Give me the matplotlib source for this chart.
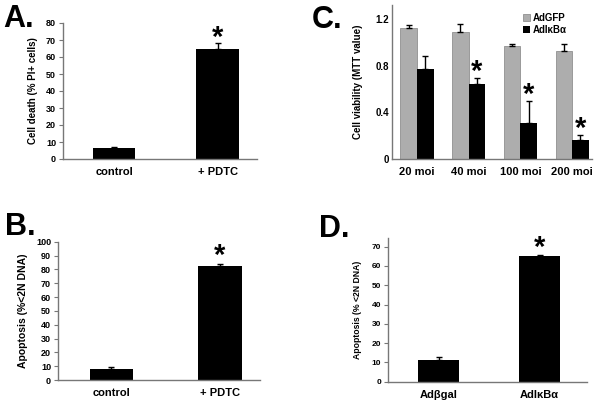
import numpy as np
import matplotlib.pyplot as plt

plt.rcParams['font.family'] = ['Liberation Sans', 'DejaVu Sans']
plt.rcParams['font.weight'] = 'bold'
plt.rcParams['axes.labelweight'] = 'bold'

W, H = 604, 405

# A. cell death
a_cats = ['control', '+ PDTC']
a_vals = [6.5, 64.5]
a_err = [0.6, 4.0]

# B. apoptosis
b_cats = ['control', '+ PDTC']
b_vals = [8.0, 82.5]
b_err = [1.5, 1.5]

# C. MTT viability
c_cats = ['20 moi', '40 moi', '100 moi', '200 moi']
c_gfp = [1.12, 1.086, 0.969, 0.926]
c_gfp_err = [0.03, 0.07, 0.014, 0.057]
c_ikb = [0.775, 0.639, 0.308, 0.162]
c_ikb_err = [0.11, 0.054, 0.19, 0.04]

# D. apoptosis
d_cats = ['Ad\u03b2gal', 'AdI\u03baB\u03b1']
d_vals = [11.0, 65.0]
d_err = [2.0, 0.8]

fig = plt.figure(figsize=(W / 100, H / 100), dpi=100)


def make_ax(l, r, t, b):
    return fig.add_axes([l / W, 1 - b / H, (r - l) / W, (b - t) / H])


def style(ax, ysize, ticks=True):
    for s in ['top', 'right']:
        ax.spines[s].set_visible(False)
    for s in ['left', 'bottom']:
        ax.spines[s].set_color('#777777')
        ax.spines[s].set_linewidth(1.0)
    ax.tick_params(axis='x', length=0, pad=6)
    ax.tick_params(axis='y', length=3 if ticks else 0, width=0.8, color='#777777', pad=2,
                   labelsize=ysize)
    for lab in ax.get_xticklabels() + ax.get_yticklabels():
        lab.set_fontweight('bold')


def star(ax, x, y, size=21):
    ax.text(x, y, '*', ha='center', va='center', fontsize=size, fontweight='bold')


# ---- A
ax = make_ax(63, 257, 23, 159)
x = np.arange(len(a_cats))
ax.bar(x, a_vals, width=0.41, color='black')
ax.errorbar(x, a_vals, yerr=[np.zeros(2), a_err], fmt='none', ecolor='black', capsize=2, lw=1)
ax.set_xlim(-0.493, 1.381)
ax.set_ylim(0, 80)
ax.set_yticks(range(0, 81, 10))
ax.set_xticks(x, a_cats, fontsize=8)
ax.set_ylabel('Cell death (% PI+ cells)', fontsize=7)
ax.yaxis.set_label_coords(-0.13, 0.5)
style(ax, 6.5)
star(ax, 1, 71)
fig.text(3 / W, 1 - 27 / H, 'A.', fontsize=22, fontweight='bold', va='baseline')

# ---- B
ax = make_ax(58, 260, 241.7, 380)
x = np.arange(len(b_cats))
ax.bar(x, b_vals, width=0.40, color='black')
ax.errorbar(x, b_vals, yerr=[np.zeros(2), b_err], fmt='none', ecolor='black', capsize=2, lw=1)
ax.set_xlim(-0.493, 1.369)
ax.set_ylim(0, 100)
ax.set_yticks(range(0, 101, 10))
ax.set_xticks(x, b_cats, fontsize=8)
ax.set_ylabel('Apoptosis (%<2N DNA)', fontsize=7.5)
ax.yaxis.set_label_coords(-0.15, 0.5)
style(ax, 6.5)
star(ax, 1, 89.5)
fig.text(5 / W, 1 - 235 / H, 'B.', fontsize=22, fontweight='bold', va='baseline')

# ---- C
ax = make_ax(392, 592, 5, 159)
x = np.arange(len(c_cats))
bw = 0.32
ax.bar(x - bw / 2, c_gfp, width=bw, color='#adadad', edgecolor='#909090', lw=0.6, label='AdGFP')
ax.bar(x + bw / 2, c_ikb, width=bw, color='black', label='AdI\u03baB\u03b1')
ax.errorbar(x - bw / 2, c_gfp, yerr=[np.zeros(4), c_gfp_err], fmt='none', ecolor='black', capsize=2, lw=1)
ax.errorbar(x + bw / 2, c_ikb, yerr=[np.zeros(4), c_ikb_err], fmt='none', ecolor='black', capsize=2, lw=1)
ax.set_xlim(-0.484, 3.385)
ax.set_ylim(0, 1.32)
ax.set_yticks([0, 0.4, 0.8, 1.2], ['0', '0.4', '0.8', '1.2'])
ax.set_xticks(x, c_cats, fontsize=8)
ax.set_ylabel('Cell viability (MTT value)', fontsize=7)
ax.yaxis.set_label_coords(-0.145, 0.5)
style(ax, 7, ticks=False)
for i in range(1, 4):
    star(ax, x[i] + bw / 2, c_ikb[i] + c_ikb_err[i] + 0.055)
leg = ax.legend(loc='upper left', bbox_to_anchor=(0.63, 0.98), frameon=False, fontsize=7,
                handlelength=0.7, handleheight=0.7, handletextpad=0.3, labelspacing=0.2, borderpad=0)
fig.text(312 / W, 1 - 28 / H, 'C.', fontsize=22, fontweight='bold', va='baseline')

# ---- D
ax = make_ax(388, 587, 238, 381.7)
x = np.arange(len(d_cats))
ax.bar(x, d_vals, width=0.40, color='black')
ax.errorbar(x, d_vals, yerr=[np.zeros(2), d_err], fmt='none', ecolor='black', capsize=2, lw=1)
ax.set_xlim(-0.5, 1.47)
ax.set_ylim(0, 74.5)
ax.set_yticks(range(0, 71, 10))
ax.set_xticks(x, d_cats, fontsize=8)
ax.set_ylabel('Apoptosis (% <2N DNA)', fontsize=6.2)
ax.yaxis.set_label_coords(-0.13, 0.5)
style(ax, 6)
star(ax, 1, 69.5)
fig.text(319 / W, 1 - 237 / H, 'D.', fontsize=22, fontweight='bold', va='baseline')

fig.savefig('out.png', dpi=100)
